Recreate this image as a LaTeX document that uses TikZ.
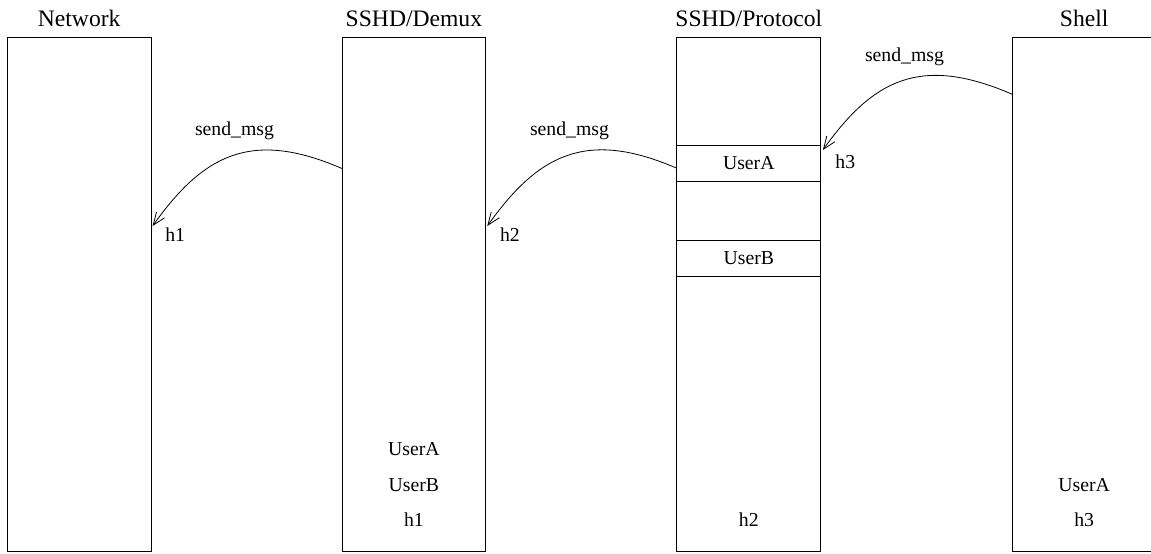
\documentclass[tikz,border=0pt]{standalone}
\usepackage{fontspec}
\setmainfont{Liberation Serif}
\usetikzlibrary{arrows.meta,calc}
\begin{document}
\begin{tikzpicture}[x=0.75pt,y=-0.75pt,
  lane/.style={draw, line width=0.75pt, minimum width=107.8pt, minimum height=385.3pt,
    inner sep=0pt, outer sep=0pt},
  slot/.style={draw, line width=0.75pt, minimum width=107.8pt, minimum height=27pt,
    inner sep=0pt, outer sep=0pt, font=\fontsize{14.8pt}{17pt}\selectfont},
  title/.style={anchor=base, inner sep=0pt, font=\fontsize{17.7pt}{20pt}\selectfont},
  txt/.style={anchor=base, inner sep=0pt, font=\fontsize{14.8pt}{17pt}\selectfont},
  handle/.style={anchor=base west, inner sep=0pt, font=\fontsize{14.8pt}{17pt}\selectfont},
  msg/.style={line width=0.6pt, -{Straight Barb[length=9.5pt,width=7.5pt,line width=0.6pt]}},
]
\useasboundingbox (0,0) rectangle (1151,553);
\clip (0,0) rectangle (1151,553);

% the four process columns
\node[lane] (net)   at (79.2,294.2)  {};
\node[lane] (demux) at (413.9,294.2) {};
\node[lane] (proto) at (748.8,294.2) {};
\node[lane] (shell) at (1084.2,294.2) {};

\node[title] (tnet)   at ($(net.north)+(0,-11.3)$)   {Network};
\node[title] (tdemux) at ($(demux.north)+(0,-11.3)$) {SSHD/Demux};
\node[title] (tproto) at ($(proto.north)+(0,-11.3)$) {SSHD/Protocol};
\node[title] (tshell) at ($(shell.north)+(0,-11.3)$) {Shell};

% per-user slots of the protocol process
\node[slot] (slotA) at (748.8,163)   {UserA};
\node[slot] (slotB) at (748.8,258.5) {UserB};

% handle tables at the foot of each column
\node[txt] (dA)  at ($(demux.south)+(0,-96)$)   {UserA};
\node[txt] (dB)  at ($(demux.south)+(0,-60)$)   {UserB};
\node[txt] (dh1) at ($(demux.south)+(0,-24.4)$) {h1};
\node[txt] (ph2) at ($(proto.south)+(0,-24.4)$) {h2};
\node[txt] (sA)  at ($(shell.south)+(0,-60)$)   {UserA};
\node[txt] (sh3) at ($(shell.south)+(0,-24.4)$) {h3};

% end points of the send_msg calls
\coordinate (s1) at ($(demux.north west)+(0,131.2)$);
\coordinate (t1) at ($(net.north east)+(1.5,188.7)$);
\coordinate (s2) at ($(slotA.west)+(0,5.3)$);
\coordinate (t2) at ($(demux.north east)+(1.5,188.7)$);
\coordinate (s3) at ($(shell.north west)+(0,57)$);
\coordinate (t3) at ($(slotA.north east)+(2.2,5)$);

\draw[msg] (s1) .. controls +(-92,-40) and +(50,-70) .. (t1);
\draw[msg] (s2) .. controls +(-92,-40) and +(50,-70) .. (t2);
\draw[msg] (s3) .. controls +(-92,-40) and +(50,-70) .. (t3);

\node[txt] (m1) at (234.5,135)  {send\_msg};
\node[txt] (m2) at (569.5,135)  {send\_msg};
\node[txt] (m3) at (904.5,61.7) {send\_msg};

\node[handle] (h1) at ($(t1)+(12.5,15.7)$) {h1};
\node[handle] (h2) at ($(t2)+(12.5,15.7)$) {h2};
\node[handle] (h3) at ($(t3)+(12.3,18.3)$) {h3};
\end{tikzpicture}
\end{document}
